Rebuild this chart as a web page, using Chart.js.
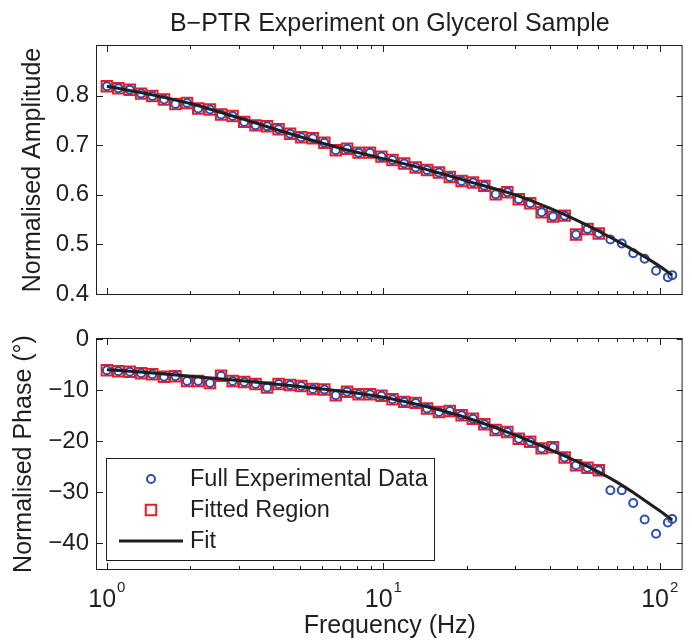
<!DOCTYPE html>
<html>
<head>
<meta charset="utf-8">
<script src="https://cdn.jsdelivr.net/npm/chart.js@4.4.1/dist/chart.umd.min.js"></script>
<style>
  html, body { margin: 0; padding: 0; background: #fff; }
  #wrap { position: relative; width: 692px; height: 644px; overflow: hidden; }
  canvas { position: absolute; left: 0; }
  #amp { top: 0; }
  #phase { top: 310px; }
</style>
</head>
<body>
<div id="wrap">
  <canvas id="amp" width="692" height="320"></canvas>
  <canvas id="phase" width="692" height="334"></canvas>
</div>
<script>
// measured points (Hz, normalised amplitude, phase in degrees)
const freqHz = [
  1.00, 1.10, 1.21, 1.33, 1.46, 1.61, 1.77, 1.95, 2.14, 2.36,
  2.59, 2.85, 3.14, 3.45, 3.80, 4.18, 4.60, 5.05, 5.56, 6.12,
  6.73, 7.40, 8.14, 8.95, 9.85, 10.8, 11.9, 13.1, 14.4, 15.9,
  17.4, 19.2, 21.1, 23.2, 25.5, 28.1, 30.9, 34.0, 37.4, 41.1,
  45.3, 49.8, 54.8, 60.2, 66.3, 72.9, 80.2, 88.2, 97.0, 107, 111,
];
const amplitude = [
  0.819, 0.815, 0.812, 0.804, 0.799, 0.792, 0.783, 0.785, 0.774, 0.772,
  0.762, 0.759, 0.747, 0.740, 0.738, 0.732, 0.723, 0.716, 0.714, 0.705,
  0.690, 0.693, 0.685, 0.685, 0.677, 0.670, 0.663, 0.655, 0.650, 0.645,
  0.636, 0.628, 0.625, 0.618, 0.601, 0.605, 0.591, 0.583, 0.565, 0.556,
  0.558, 0.520, 0.531, 0.522, 0.510, 0.502, 0.482, 0.471, 0.447, 0.434, 0.438,
];
const phaseDeg = [
  -6.1, -6.3, -6.4, -6.7, -6.9, -7.4, -7.3, -8.2, -8.2, -8.6,
  -7.2, -8.2, -8.4, -8.8, -9.5, -8.8, -9.0, -9.2, -9.8, -9.9,
  -11.0, -10.3, -10.8, -10.8, -11.1, -11.8, -12.3, -12.5, -13.6, -14.3,
  -14.1, -14.9, -15.6, -16.7, -17.8, -18.2, -19.5, -20.1, -21.4, -21.2,
  -23.2, -24.7, -25.2, -25.7, -29.6, -29.6, -32.1, -35.3, -38.1, -35.9, -35.2,
];
// points up to this frequency were used for the fit
const fitLimitHz = 61;

// fitted model curve
const fitFreq  = [1, 1.5, 2, 3, 5, 7, 10, 15, 20, 30, 40, 50, 60, 70, 80, 90, 100, 111];
const fitAmp   = [0.819, 0.800, 0.784, 0.755, 0.717, 0.694, 0.673, 0.648, 0.628, 0.600, 0.573, 0.549, 0.527, 0.507, 0.489, 0.472, 0.456, 0.438];
const fitPhase = [-6.0, -6.7, -7.3, -8.1, -9.3, -10.2, -11.4, -13.5, -15.4, -18.8, -21.6, -23.9, -26.0, -28.0, -30.0, -31.9, -33.6, -35.4];

// axes
const xMin = 0.921, xMax = 121;
const xTickValues = [1, 2, 3, 4, 5, 6, 7, 8, 9, 10, 20, 30, 40, 50, 60, 70, 80, 90, 100];
const xMajorTicks = [1, 10, 100];
const ampTicks   = [0.4, 0.5, 0.6, 0.7, 0.8];
const phaseTicks = [-40, -30, -20, -10, 0];

const INK  = '#1f1f1f';
const BLUE = '#2c4fae';
const RED  = '#ec1c24';
const FONT = "'Liberation Sans', Arial, Helvetica, sans-serif";

const pts = ( ys ) => freqHz.map( ( f, i ) => ( { x: f, y: ys[ i ] } ) );
const fitted = ( ys ) => pts( ys ).filter( ( p ) => p.x <= fitLimitHz );
const curve = ( ys ) => fitFreq.map( ( f, i ) => ( { x: f, y: ys[ i ] } ) );

function datasets( ys, fitYs ) {
    return [
        { label: 'Full Experimental Data', data: pts( ys ), order: 1,
          pointStyle: 'circle', pointRadius: 4, borderWidth: 2, borderColor: BLUE, backgroundColor: 'rgba(0,0,0,0)' },
        { label: 'Fitted Region', data: fitted( ys ), order: 2,
          pointStyle: 'rect', pointRadius: 7.4, borderWidth: 2, borderColor: RED, backgroundColor: 'rgba(0,0,0,0)' },
        { label: 'Fit', data: curve( fitYs ), order: 0, showLine: true, pointRadius: 0,
          borderColor: INK, borderWidth: 3, cubicInterpolationMode: 'monotone' },
    ];
}

function xScale( withLabels ) {
    return {
        type: 'logarithmic', min: xMin, max: xMax,
        grid: { display: false, drawTicks: false },
        border: { display: false },
        ticks: { display: false },
        title: { display: withLabels, text: 'Frequency (Hz)', color: INK,
                 font: { family: FONT, size: 25 }, padding: { top: 0, bottom: 3 } },
        afterBuildTicks: ( s ) => { s.ticks = xTickValues.map( ( v ) => ( { value: v, major: xMajorTicks.includes( v ) } ) ); },
        afterFit: ( s ) => { s.height = withLabels ? 75 : 0; s.paddingLeft = 0; s.paddingRight = 0; },
    };
}

function yScale( min, max, ticks, text, titlePad, fmt ) {
    return {
        type: 'linear', min, max,
        grid: { display: false, drawTicks: false },
        border: { display: false },
        ticks: { color: INK, font: { family: FONT, size: 24 }, padding: 8, autoSkip: false, callback: fmt },
        title: { display: true, text, color: INK, font: { family: FONT, size: 25 }, padding: { top: titlePad, bottom: 0 } },
        afterBuildTicks: ( s ) => { s.ticks = ticks.map( ( v ) => ( { value: v } ) ); },
        afterFit: ( s ) => { s.width = 97; s.paddingTop = 0; s.paddingBottom = 0; },
    };
}

// box around the axes plus inward tick marks on all four sides
const frameTicks = {
    id: 'frameTicks',
    afterDatasetsDraw( chart ) {
        const { ctx, chartArea: a, scales: { x, y } } = chart;
        ctx.save();
        ctx.strokeStyle = INK;
        ctx.lineWidth = 1;
        ctx.beginPath();
        x.ticks.forEach( ( t ) => {
            const px = Math.round( x.getPixelForValue( t.value ) ) + 0.5;
            const len = t.major ? 6 : 3;
            ctx.moveTo( px, a.bottom ); ctx.lineTo( px, a.bottom - len );
            ctx.moveTo( px, a.top );    ctx.lineTo( px, a.top + len );
        } );
        y.ticks.forEach( ( t ) => {
            const py = Math.round( y.getPixelForValue( t.value ) ) + 0.5;
            ctx.moveTo( a.left, py );  ctx.lineTo( a.left + 6, py );
            ctx.moveTo( a.right, py ); ctx.lineTo( a.right - 6, py );
        } );
        ctx.stroke();
        ctx.strokeRect( a.left - 0.5, a.top - 0.5, a.right - a.left, a.bottom - a.top + 1 );
        ctx.restore();
    },
};

// 10^n labels with a raised exponent
const powerLabels = {
    id: 'powerLabels',
    afterDraw( chart ) {
        const { ctx, chartArea: a, scales: { x } } = chart;
        ctx.save();
        ctx.fillStyle = INK;
        ctx.textBaseline = 'alphabetic';
        ctx.textAlign = 'left';
        x.ticks.filter( ( t ) => t.major ).forEach( ( t ) => {
            const px = x.getPixelForValue( t.value );
            const exp = String( Math.round( Math.log10( t.value ) ) );
            ctx.font = `25px ${ FONT }`;
            const w1 = ctx.measureText( '10' ).width;
            ctx.font = `15px ${ FONT }`;
            const w2 = ctx.measureText( exp ).width;
            const left = px - ( w1 + w2 + 1 ) / 2;
            ctx.font = `25px ${ FONT }`;
            ctx.fillText( '10', left, a.bottom + 38 );
            ctx.font = `15px ${ FONT }`;
            ctx.fillText( exp, left + w1 + 1, a.bottom + 23 );
        } );
        ctx.restore();
    },
};

// boxed legend in the lower left corner of the phase axes
const legendBox = {
    id: 'legendBox',
    afterDraw( chart ) {
        const { ctx, chartArea: a } = chart;
        const [ circles, squares, fit ] = chart.data.datasets;
        const left = a.left + 9, right = a.left + 337;
        const bottom = a.bottom - 9, top = bottom - 102;
        const rows = [ top + 21, top + 52, top + 83 ];
        const symX = left + 45;

        ctx.save();
        ctx.fillStyle = '#fff';
        ctx.fillRect( left, top, right - left, bottom - top );
        ctx.strokeStyle = INK;
        ctx.lineWidth = 1;
        ctx.strokeRect( left + 0.5, top + 0.5, right - left, bottom - top );

        ctx.lineWidth = circles.borderWidth;
        ctx.strokeStyle = circles.borderColor;
        ctx.beginPath();
        ctx.arc( symX, rows[ 0 ], circles.pointRadius, 0, Math.PI * 2 );
        ctx.stroke();

        const half = squares.pointRadius * Math.SQRT1_2;
        ctx.lineWidth = squares.borderWidth;
        ctx.strokeStyle = squares.borderColor;
        ctx.strokeRect( symX - half, rows[ 1 ] - half, half * 2, half * 2 );

        ctx.lineWidth = fit.borderWidth;
        ctx.strokeStyle = fit.borderColor;
        ctx.beginPath();
        ctx.moveTo( left + 13, rows[ 2 ] );
        ctx.lineTo( left + 77, rows[ 2 ] );
        ctx.stroke();

        ctx.fillStyle = INK;
        ctx.font = `23.5px ${ FONT }`;
        ctx.textBaseline = 'middle';
        [ circles, squares, fit ].forEach( ( d, i ) => ctx.fillText( d.label, left + 84, rows[ i ] + 1 ) );
        ctx.restore();
    },
};

const common = {
    responsive: false,
    animation: false,
    devicePixelRatio: 1,
    events: [],
};

new Chart( document.getElementById( 'amp' ), {
    type: 'scatter',
    data: { datasets: datasets( amplitude, fitAmp ) },
    options: {
        ...common,
        layout: { padding: { left: 0, right: 1, top: 0, bottom: 26 } },
        plugins: {
            legend: { display: false },
            tooltip: { enabled: false },
            title: { display: true, text: 'B\u2212PTR Experiment on Glycerol Sample', color: INK, fullSize: false,
                     font: { family: FONT, size: 25, weight: 'normal' }, padding: { top: 8.7, bottom: 7.3 } },
        },
        scales: {
            x: xScale( false ),
            y: yScale( 0.4, 0.9, ampTicks, 'Normalised Amplitude', 18, ( v ) => v.toFixed( 1 ) ),
        },
    },
    plugins: [ frameTicks ],
} );

new Chart( document.getElementById( 'phase' ), {
    type: 'scatter',
    data: { datasets: datasets( phaseDeg, fitPhase ) },
    options: {
        ...common,
        layout: { padding: { left: 0, right: 1, top: 29, bottom: 0 } },
        plugins: {
            legend: { display: false },
            tooltip: { enabled: false },
        },
        scales: {
            x: xScale( true ),
            y: yScale( -45, 0, phaseTicks, 'Normalised Phase (\u00b0)', 9.5,
                       ( v ) => ( v < 0 ? '\u2212' + Math.abs( v ) : String( v ) ) ),
        },
    },
    plugins: [ frameTicks, powerLabels, legendBox ],
} );
</script>
</body>
</html>
